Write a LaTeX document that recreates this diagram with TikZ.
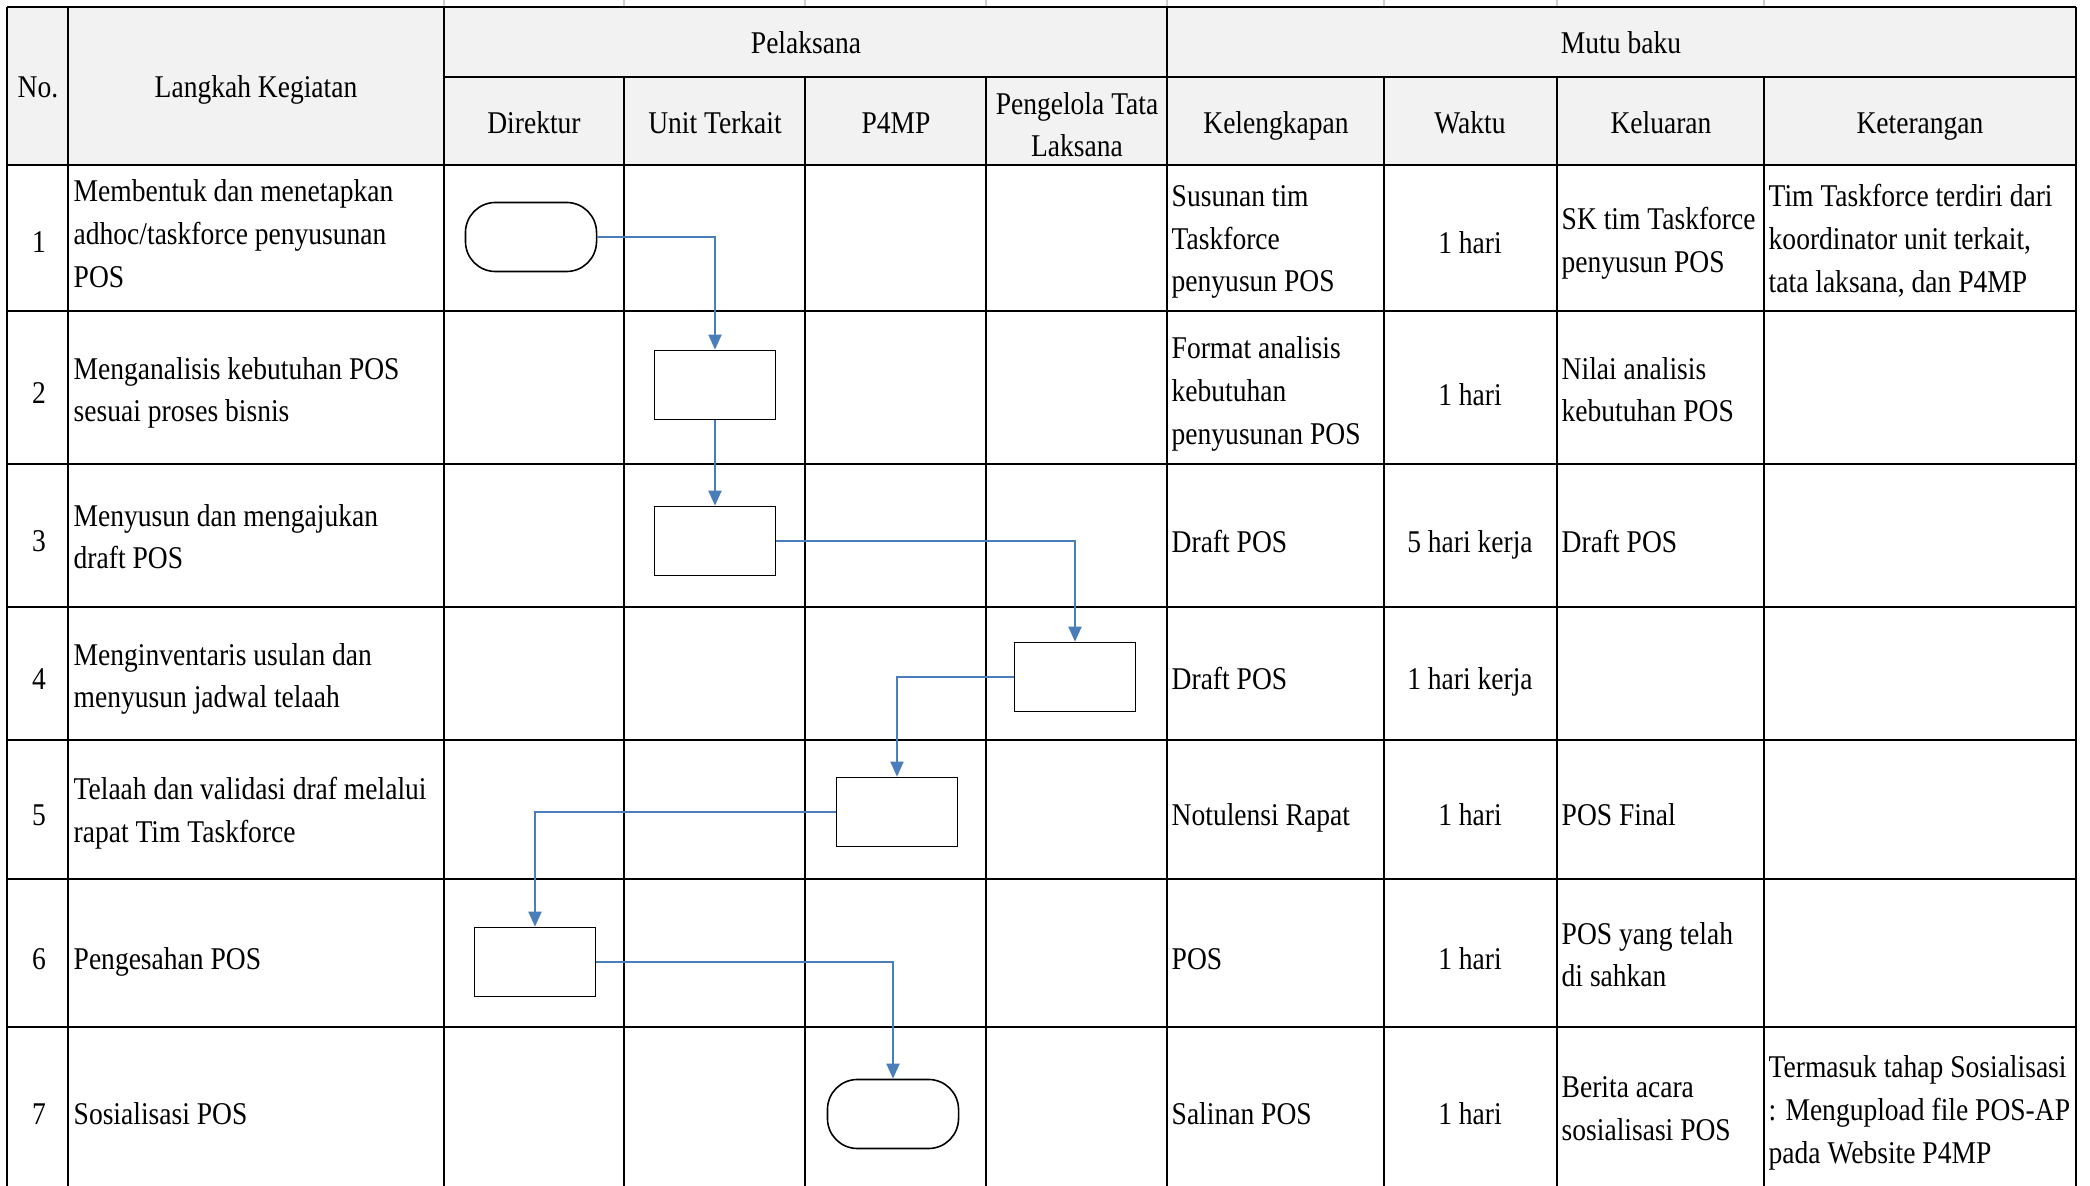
\documentclass[tikz,border=0pt]{standalone}
\usepackage{fontspec}
\setmainfont{Liberation Serif}[FakeStretch=0.87]
\usetikzlibrary{positioning,arrows.meta}
\definecolor{hdrgray}{RGB}{242,242,242}
\definecolor{flowblue}{RGB}{74,126,187}
\definecolor{gridgray}{RGB}{205,205,205}

\tikzset{
  txt/.style={inner sep=0pt, yshift=-0.04cm, font=\fontsize{9}{12.2}\selectfont,
    execute at begin node=\strut, execute at end node=\strut},
  cell/.style={txt, anchor=west, align=left},
  mid/.style={txt, align=center},
  proc/.style={draw, line width=0.45pt, fill=white, minimum width=1.21cm, minimum height=0.69cm, inner sep=0pt},
  term/.style={proc, rounded corners=0.3cm, minimum width=1.31cm},
  flow/.style={draw=flowblue, line width=0.55pt, -{Triangle[length=0.15cm,width=0.13cm]}}
}

\begin{document}
\begin{tikzpicture}[x=0.01cm, y=-0.01cm]
\useasboundingbox (0,0) rectangle (2090,1186);
\clip (0,0) rectangle (2090,1186);

% Header background
\fill[hdrgray] (7,7) rectangle (2076,165);

% Faint sheet gridlines above the table
\foreach \x in {444,624,805,986,1167,1384,1557,1764}
  \draw[gridgray, line width=0.4pt] (\x,0) -- (\x,7);

% Table grid
\begin{scope}[line width=0.7pt]
\draw (7,7) -- (2076,7);
\draw (444,77) -- (2076,77);
\foreach \y in {165,311,464,607,740,879,1027}
  \draw (7,\y) -- (2076,\y);
\foreach \x in {7,68,444,1167,2076}
  \draw (\x,7) -- (\x,1200);
\foreach \x in {624,805,986,1384,1557,1764}
  \draw (\x,77) -- (\x,1200);
\end{scope}

% Headers
\node[mid] (hNo) at (38,85) {No.};
\node[mid] (hStep) at (256,85) {Langkah Kegiatan};
\node[mid] (hPel) at (806,41) {Pelaksana};
\node[mid] (hMutu) at (1621,41) {Mutu baku};
\node[mid] (hDir) at (534,121) {Direktur};
\node[mid] (hUnit) at (715,121) {Unit Terkait};
\node[mid] (hP4mp) at (896,121) {P4MP};
\node[mid] (hPtl) at (1077,127) {Pengelola Tata\\Laksana};
\node[mid] (hKel) at (1276,121) {Kelengkapan};
\node[mid] (hWkt) at (1470,121) {Waktu};
\node[mid] (hOut) at (1661,121) {Keluaran};
\node[mid] (hKet) at (1920,121) {Keterangan};

% Row 1
\node[mid] (no1) at (39,240) {1};
\node[cell] (step1) at (73,236) {Membentuk dan menetapkan\\adhoc/taskforce penyusunan\\POS};
\node[cell] (kel1) at (1171,241) {Susunan tim\\Taskforce\\penyusun POS};
\node[mid] (wkt1) at (1470,241) {1 hari};
\node[cell] (out1) at (1561,242) {SK tim Taskforce\\penyusun POS};
\node[cell] (ket1) at (1768,241) {Tim Taskforce terdiri dari\\koordinator unit terkait,\\tata laksana, dan P4MP};

% Row 2
\node[mid] (no2) at (39,391) {2};
\node[cell] (step2) at (73,392) {Menganalisis kebutuhan POS\\sesuai proses bisnis};
\node[cell] (kel2) at (1171,393) {Format analisis\\kebutuhan\\penyusunan POS};
\node[mid] (wkt2) at (1470,393) {1 hari};
\node[cell] (out2) at (1561,392) {Nilai analisis\\kebutuhan POS};

% Row 3
\node[mid] (no3) at (39,539) {3};
\node[cell] (step3) at (73,539) {Menyusun dan mengajukan\\draft POS};
\node[cell] (kel3) at (1171,540) {Draft POS};
\node[mid] (wkt3) at (1470,540) {5 hari kerja};
\node[cell] (out3) at (1561,540) {Draft POS};

% Row 4
\node[mid] (no4) at (39,677) {4};
\node[cell] (step4) at (73,678) {Menginventaris usulan dan\\menyusun jadwal telaah};
\node[cell] (kel4) at (1171,677) {Draft POS};
\node[mid] (wkt4) at (1470,677) {1 hari kerja};

% Row 5
\node[mid] (no5) at (39,813) {5};
\node[cell] (step5) at (73,812) {Telaah dan validasi draf melalui\\rapat Tim Taskforce};
\node[cell] (kel5) at (1171,813) {Notulensi Rapat};
\node[mid] (wkt5) at (1470,813) {1 hari};
\node[cell] (out5) at (1561,813) {POS Final};

% Row 6
\node[mid] (no6) at (39,957) {6};
\node[cell] (step6) at (73,957) {Pengesahan POS};
\node[cell] (kel6) at (1171,957) {POS};
\node[mid] (wkt6) at (1470,957) {1 hari};
\node[cell] (out6) at (1561,957) {POS yang telah\\di sahkan};

% Row 7
\node[mid] (no7) at (39,1112) {7};
\node[cell] (step7) at (73,1112) {Sosialisasi POS};
\node[cell] (kel7) at (1171,1112) {Salinan POS};
\node[mid] (wkt7) at (1470,1112) {1 hari};
\node[cell] (out7) at (1561,1111) {Berita acara\\sosialisasi POS};
\node[cell] (ket7) at (1768,1112) {Termasuk tahap Sosialisasi\\: Mengupload file POS-AP\\pada Website P4MP};

% Flow shapes
\node[term] (s1) at (531,237) {};
\node[proc] (s2) at (715,385) {};
\node[proc] (s3) at (715,541) {};
\node[proc] (s4) at (1075,677) {};
\node[proc] (s5) at (897,812) {};
\node[proc] (s6) at (535,962) {};
\node[term] (s7) at (893,1114) {};

% Connectors
\draw[flow] (s1.east) -| (s2.north);
\draw[flow] (s2.south) -- (s3.north);
\draw[flow] (s3.east) -| (s4.north);
\draw[flow] (s4.west) -| (s5.north);
\draw[flow] (s5.west) -| (s6.north);
\draw[flow] (s6.east) -| (s7.north);
\end{tikzpicture}
\end{document}
